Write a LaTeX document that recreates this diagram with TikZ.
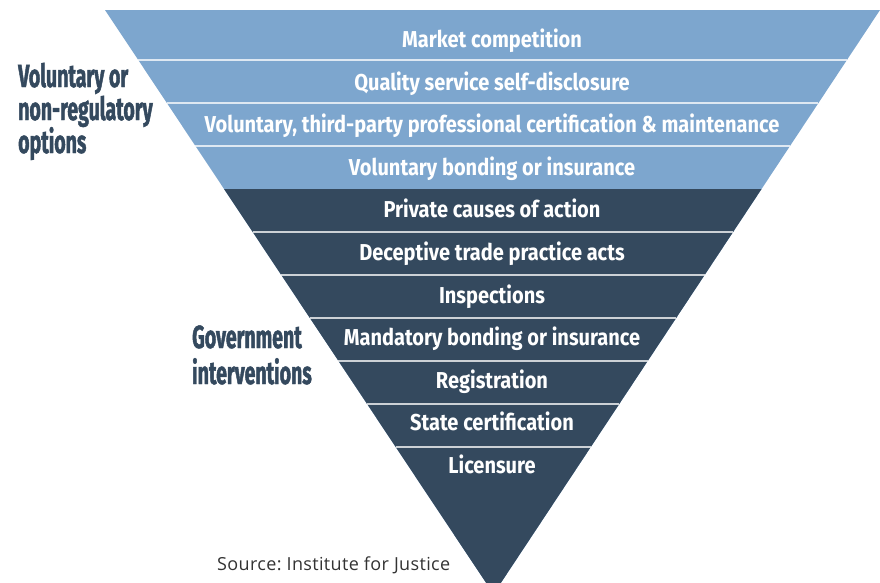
\documentclass[tikz,border=0pt]{standalone}
\usepackage{fontspec}
\setmainfont{Fira Sans}
\newfontfamily\bandfont{Fira Sans}[FakeStretch=0.87]
\newfontfamily\sidefont{Fira Sans}[FakeStretch=0.61,FakeBold=1.4]
\newfontfamily\notefont{Open Sans}[LetterSpace=2]
\usetikzlibrary{calc}
\definecolor{lightband}{RGB}{125,166,206}
\definecolor{darkband}{RGB}{52,73,94}
\definecolor{sidetext}{RGB}{52,73,94}
\definecolor{notetext}{RGB}{51,51,51}
\tikzset{
  bandlabel/.style={anchor=base,inner sep=0pt,text=white,
    font=\bandfont\bfseries\fontsize{23}{23}\selectfont},
  sidelabel/.style={anchor=base west,inner sep=0pt,text=sidetext,
    font=\sidefont\bfseries\fontsize{32}{32}\selectfont},
  divider/.style={draw=white,opacity=0.75,line width=1.2pt}
}
\begin{document}
\begin{tikzpicture}[x=1pt,y=-1pt]
                \useasboundingbox (0,0) rectangle (880,582);
                \clip (0,0) rectangle (880,582);

                % Corners of the funnel
                \coordinate (tl) at (105,10);
                \coordinate (tr) at (880,10);
                \coordinate (apex) at (493.5,594);

                % Drawing the voluntary part
                \fill [lightband] (tl) -- (tr) -- (apex) -- cycle;

                % Drawing the government part
                \fill [darkband] ($(tl)!0.3065!(apex)$) -- ($(tr)!0.3065!(apex)$) -- (apex) -- cycle;

                % Drawing the dividers
                \foreach \y in {60,103,146,232,275,318,361,404,447}
                  \draw [divider] ($(tl)!{(\y-10)/584}!(apex)$) -- ($(tr)!{(\y-10)/584}!(apex)$);

                % Marking the bands
                \node [bandlabel] (market) at (492,47.5) {Market competition};
                \node [bandlabel] (quality) at (492,90.1) {Quality service self-disclosure};
                \node [bandlabel] (certvol) at (492,132.7) {Voluntary, third-party professional certification \& maintenance};
                \node [bandlabel] (bondvol) at (492,175.3) {Voluntary bonding or insurance};
                \node [bandlabel] (private) at (492,217.9) {Private causes of action};
                \node [bandlabel] (deceptive) at (492,260.5) {Deceptive trade practice acts};
                \node [bandlabel] (inspect) at (492,303.1) {Inspections};
                \node [bandlabel] (bondman) at (492,345.7) {Mandatory bonding or insurance};
                \node [bandlabel] (register) at (492,388.3) {Registration};
                \node [bandlabel] (certstate) at (492,430.9) {State certification};
                \node [bandlabel] (license) at (492,473.5) {Licensure};

                % Marking the groups
                \node [sidelabel] (vol1) at (18,87) {Voluntary or};
                \node [sidelabel] (vol2) at (18,120) {non-regulatory};
                \node [sidelabel] (vol3) at (18,153) {options};
                \node [sidelabel] (gov1) at (192,348) {Government};
                \node [sidelabel] (gov2) at (192,384) {interventions};

                % Marking the source
                \node [anchor=base west,inner sep=0pt,text=notetext,font=\notefont\frenchspacing\fontsize{18}{18}\selectfont] (source) at (217,570.5) {Source: Institute for Justice};
            \end{tikzpicture}
\end{document}
